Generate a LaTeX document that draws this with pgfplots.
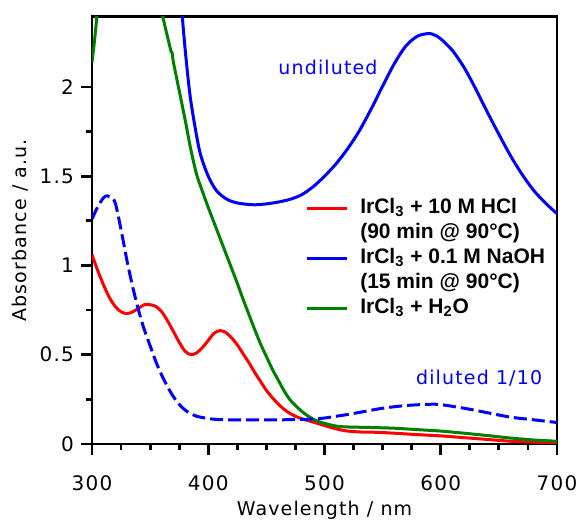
\documentclass[border=0pt]{standalone}
\usepackage{fontspec}
\setmainfont{DejaVu Sans}
\newfontfamily\trk[LetterSpace=6]{DejaVu Sans}
\newfontfamily\legf{Liberation Sans}
\usepackage{pgfplots}
\pgfplotsset{compat=1.18}
\definecolor{cgreen}{RGB}{0,128,0}
\begin{document}
\begin{tikzpicture}
\begin{axis}[name=ax,scale only axis,width=232.5pt,height=213.6pt,
  xmin=300,xmax=700,ymin=0,ymax=2.394,
  xtick={300,400,500,600,700},minor x tick num=3,
  ytick={0,0.5,1,1.5,2},minor y tick num=1,
  tick align=outside,xtick pos=left,ytick pos=left,
  major tick length=5.5pt,minor tick length=3pt,
  axis line style={line width=1.4pt},tick style={black,line width=1.4pt},
  /pgf/number format/assume math mode=true,
  tick label style={font=\trk\fontsize{10}{12}\selectfont},
  xticklabel style={/pgf/number format/1000 sep={},yshift=-7pt},
  xlabel={Wavelength / nm},ylabel={Absorbance / a.u.},
  label style={font=\trk\fontsize{9.5}{11}\selectfont},
  xlabel style={at={(axis description cs:0.5,-0.1685)},anchor=base},
  ylabel style={at={(axis description cs:-0.155,0.5)},anchor=center},
  legend style={draw=none,fill=none,at={(axis cs:483.2,1.39)},anchor=north west,
    inner sep=0pt,row sep=0pt,font=\legf\bfseries\fontsize{10.5}{12.6}\selectfont,
    nodes={inner sep=0pt,text height=8.5pt,text depth=4pt}},
  legend cell align=left,
  legend image code/.code={\draw[#1,line width=1.5pt] (0pt,0pt) -- (20pt,0pt);\path (26.5pt,0pt);},
]
% 10 M HCl
\addplot[red,smooth,line width=1.5pt,forget plot] coordinates {(300,1.06) (305,0.97) (310,0.89) (315,0.82) (320,0.77) (325,0.74) (330,0.73) (335,0.74) (340,0.76) (345,0.78) (350,0.78) (355,0.77) (360,0.74) (365,0.69) (370,0.63) (375,0.57) (380,0.52) (385,0.50) (390,0.51) (395,0.54) (400,0.58) (405,0.62) (410,0.635) (415,0.625) (420,0.595) (425,0.555) (430,0.505) (435,0.455) (440,0.40) (445,0.35) (450,0.30) (455,0.26) (460,0.225) (465,0.195) (470,0.172) (475,0.155) (480,0.142) (485,0.132) (490,0.123) (495,0.113) (500,0.103) (505,0.093) (510,0.085) (515,0.077) (520,0.072) (530,0.067) (545,0.065) (560,0.06) (580,0.052) (600,0.045) (620,0.035) (640,0.025) (660,0.015) (680,0.01) (700,0.005)};
% H2O
\addplot[cgreen,smooth,line width=1.5pt,forget plot] coordinates {(300,2.14) (302,2.25) (304,2.38) (306,2.5) (330,2.7) (355,2.55) (361,2.39) (365,2.28) (368,2.20) (369,2.19) (370,2.14) (375,1.98) (380,1.82) (385,1.65) (390,1.51) (395,1.415) (400,1.325) (405,1.24) (410,1.155) (415,1.07) (420,0.985) (425,0.90) (430,0.81) (435,0.725) (440,0.64) (445,0.56) (450,0.49) (455,0.42) (460,0.36) (465,0.30) (470,0.25) (475,0.215) (480,0.185) (485,0.16) (490,0.14) (495,0.125) (500,0.115) (510,0.10) (520,0.095) (540,0.092) (560,0.088) (580,0.08) (600,0.072) (620,0.06) (640,0.047) (660,0.033) (680,0.022) (700,0.015)};
% 0.1 M NaOH, undiluted
\addplot[blue,smooth,line width=1.5pt,forget plot] coordinates {(374,2.7) (377,2.45) (380,2.22) (384,1.97) (388,1.80) (393,1.63) (400,1.50) (407,1.42) (415,1.375) (422,1.355) (430,1.345) (440,1.34) (450,1.345) (460,1.355) (470,1.37) (480,1.395) (490,1.44) (500,1.50) (510,1.57) (520,1.655) (530,1.755) (540,1.875) (550,2.005) (560,2.13) (570,2.23) (580,2.285) (590,2.30) (595,2.29) (600,2.27) (610,2.205) (620,2.11) (630,1.99) (640,1.86) (650,1.735) (660,1.615) (670,1.51) (680,1.42) (690,1.35) (700,1.29)};
% 0.1 M NaOH, diluted 1/10
\addplot[blue,smooth,line width=1.5pt,dash pattern=on 6.5pt off 2.5pt,forget plot] coordinates {(300,1.26) (305,1.33) (310,1.38) (313,1.39) (316,1.385) (320,1.35) (325,1.20) (330,1.03) (335,0.88) (340,0.75) (345,0.64) (350,0.55) (355,0.46) (360,0.385) (365,0.32) (370,0.265) (375,0.222) (380,0.19) (385,0.17) (390,0.155) (400,0.142) (410,0.136) (420,0.135) (440,0.135) (460,0.135) (480,0.137) (490,0.14) (500,0.145) (510,0.155) (520,0.165) (533,0.18) (550,0.2) (570,0.215) (590,0.222) (600,0.22) (620,0.20) (640,0.175) (660,0.15) (680,0.135) (700,0.12)};
\addlegendimage{red}\addlegendentry{IrCl\textsubscript{3} + 10 M HCl}
\addlegendimage{empty legend}\addlegendentry{(90 min @ 90°C)}
\addlegendimage{blue}\addlegendentry{IrCl\textsubscript{3} + 0.1 M NaOH}
\addlegendimage{empty legend}\addlegendentry{(15 min @ 90°C)}
\addlegendimage{cgreen}\addlegendentry{IrCl\textsubscript{3} + H\textsubscript{2}O}
\node[text=blue,font=\trk\fontsize{9.5}{11}\selectfont] at (axis cs:503,2.11) {undiluted};
\node[text=blue,font=\trk\fontsize{9.5}{11}\selectfont] at (axis cs:633,0.367) {diluted 1/10};
\end{axis}
\pgfresetboundingbox
\path[use as bounding box] ([shift={(-46pt,-38pt)}]ax.south west) rectangle ([shift={(11.5pt,8.35pt)}]ax.north east);
\end{tikzpicture}
\end{document}
